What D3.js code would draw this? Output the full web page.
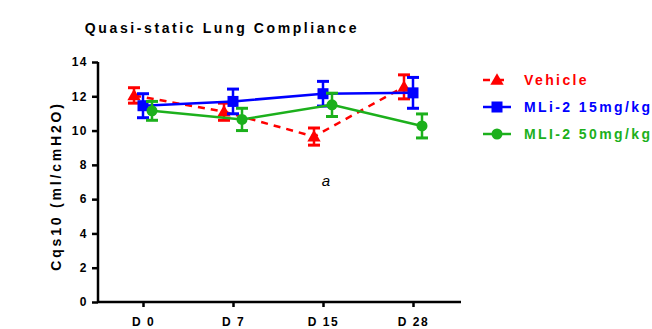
<!DOCTYPE html>
<html>
<head>
<meta charset="utf-8">
<script src="https://cdn.jsdelivr.net/npm/d3@7"></script>
<style>
  body { margin: 0; background: #fff; }
  text { font-family: "Liberation Sans", Arial, sans-serif; }
</style>
</head>
<body>
<div id="chart"></div>
<script>
var days = ["D0", "D7", "D15", "D28"];
var dayLabels = ["D 0", "D 7", "D 15", "D 28"];
var yTicks = [0, 2, 4, 6, 8, 10, 12, 14];

var vehicleMean = [12.05, 11.1, 9.65, 12.55];
var vehicleErr = [0.45, 0.5, 0.5, 0.7];
var mli15Mean = [11.45, 11.7, 12.15, 12.2];
var mli15Err = [0.7, 0.72, 0.72, 0.9];
var mli50Mean = [11.15, 10.65, 11.5, 10.27];
var mli50Err = [0.55, 0.65, 0.68, 0.7];

var seriesNames = ["Vehicle", "MLi-2 15mg/kg", "MLI-2 50mg/kg"];

var w = 652, h = 329;
var svg = d3.select("#chart").append("svg")
  .attr("width", w).attr("height", h);

var x = d3.scalePoint().domain(days).range([98, 458]).padding(0.5);
var y = d3.scaleLinear().domain([0, 14]).range([302, 62]);

var series = [
  {name: seriesNames[0], mean: vehicleMean, err: vehicleErr, color: "#ff0000", shape: "tri", dash: "7,6", off: -9},
  {name: seriesNames[1], mean: mli15Mean, err: mli15Err, color: "#0000ff", shape: "sq", dash: null, off: 0},
  {name: seriesNames[2], mean: mli50Mean, err: mli50Err, color: "#1cb01c", shape: "circ", dash: null, off: 9}
];

// title
svg.append("text")
  .attr("x", 222).attr("y", 33)
  .attr("text-anchor", "middle")
  .attr("font-size", 14).attr("font-weight", "bold")
  .attr("letter-spacing", 2.6)
  .text("Quasi-static Lung Compliance");

// axes
var yAxis = svg.append("g")
  .attr("transform", "translate(98,0)")
  .call(d3.axisLeft(y).tickValues(yTicks).tickSize(6).tickPadding(4).tickSizeOuter(0));
var xAxis = svg.append("g")
  .attr("transform", "translate(0,302)")
  .call(d3.axisBottom(x).tickSize(5).tickSizeOuter(0).tickFormat(function(d, i) { return dayLabels[i]; }));

[yAxis, xAxis].forEach(function(g) {
  g.select(".domain").attr("stroke", "#000").attr("stroke-width", 2.5);
  g.selectAll(".tick line").attr("stroke", "#000").attr("stroke-width", 2.5);
  g.selectAll(".tick text")
    .attr("fill", "#000")
    .attr("font-family", "Liberation Sans, Arial, sans-serif")
    .attr("font-weight", "bold")
    .attr("font-size", 12)
    .attr("letter-spacing", 1.5);
});
xAxis.select(".domain").attr("d", "M98,0H461");
yAxis.select(".domain").attr("d", "M0,302V62");
xAxis.selectAll(".tick text").attr("y", 24).attr("dy", null);

// y label
svg.append("text")
  .attr("transform", "translate(61,186) rotate(-90)")
  .attr("text-anchor", "middle")
  .attr("font-size", 14).attr("font-weight", "bold")
  .attr("letter-spacing", 2.8)
  .text("Cqs10 (ml/cmH2O)");

function drawMarker(g, shape, cx, cy, color, s) {
  if (shape === "tri") {
    g.append("path")
      .attr("d", d3.symbol().type(d3.symbolTriangle).size(s * 7)())
      .attr("transform", "translate(" + cx + "," + (cy + 1) + ")")
      .attr("fill", color);
  } else if (shape === "sq") {
    g.append("rect")
      .attr("x", cx - s / 2).attr("y", cy - s / 2)
      .attr("width", s).attr("height", s)
      .attr("fill", color);
  } else {
    g.append("circle")
      .attr("cx", cx).attr("cy", cy).attr("r", s / 2)
      .attr("fill", color);
  }
}

var line = d3.line();

series.forEach(function(s) {
  var g = svg.append("g");
  var pts = days.map(function(d, i) { return [x(d) + s.off, y(s.mean[i])]; });
  g.append("path")
    .attr("d", line(pts))
    .attr("fill", "none")
    .attr("stroke", s.color)
    .attr("stroke-width", 2.5)
    .attr("stroke-dasharray", s.dash);
  days.forEach(function(d, i) {
    var cx = x(d) + s.off;
    var top = y(s.mean[i] + s.err[i]), bot = y(s.mean[i] - s.err[i]);
    g.append("line").attr("x1", cx).attr("x2", cx).attr("y1", top).attr("y2", bot)
      .attr("stroke", s.color).attr("stroke-width", 2.5);
    [top, bot].forEach(function(yy) {
      g.append("line").attr("x1", cx - 6).attr("x2", cx + 6).attr("y1", yy).attr("y2", yy)
        .attr("stroke", s.color).attr("stroke-width", 3);
    });
    drawMarker(g, s.shape, cx, y(s.mean[i]), s.color, 11);
  });
});

// significance mark
svg.append("text")
  .attr("x", 326).attr("y", 186)
  .attr("text-anchor", "middle")
  .attr("font-size", 15).attr("font-style", "italic")
  .text("a");

// legend
var legend = svg.append("g");
series.forEach(function(s, i) {
  var ly = 80 + i * 27;
  legend.append("line")
    .attr("x1", 483).attr("x2", 511).attr("y1", ly).attr("y2", ly)
    .attr("stroke", s.color).attr("stroke-width", 2.5)
    .attr("stroke-dasharray", s.dash ? "7,7" : null);
  drawMarker(legend, s.shape, 497, ly, s.color, 11);
  legend.append("text")
    .attr("x", 524).attr("y", ly + 5)
    .attr("fill", s.color)
    .attr("font-size", 14).attr("font-weight", "bold")
    .attr("letter-spacing", 2.4)
    .text(s.name);
});
</script>
</body>
</html>
